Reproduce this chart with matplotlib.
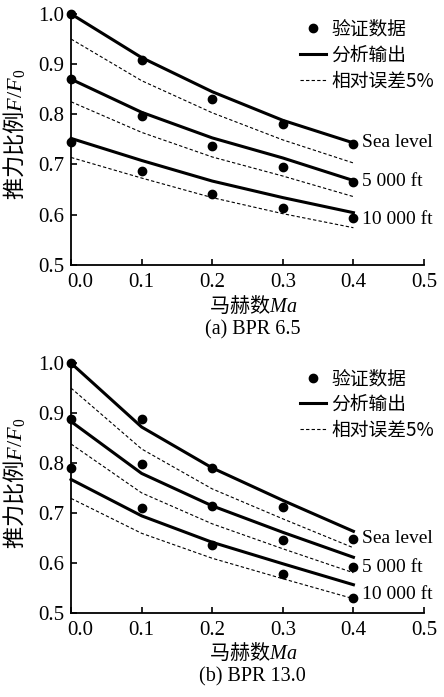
import numpy as np
import matplotlib
matplotlib.use('Agg')
import matplotlib.pyplot as plt
from matplotlib.transforms import ScaledTranslation

plt.rcParams['font.family'] = ['Liberation Serif', 'Noto Sans CJK SC']
plt.rcParams['mathtext.fontset'] = 'custom'
plt.rcParams['mathtext.it'] = 'Liberation Serif:italic'
plt.rcParams['mathtext.rm'] = 'Liberation Serif'

mach = [0.0, 0.1, 0.2, 0.3, 0.4]
altitudes = ['Sea level', '5 000 ft', '10 000 ft']

# (a) BPR 6.5
a_data = [[1.000, 0.909, 0.830, 0.781, 0.741],
          [0.870, 0.797, 0.736, 0.695, 0.665],
          [0.745, 0.687, 0.642, 0.614, 0.594]]
a_model = [[1.000, 0.913, 0.845, 0.788, 0.743],
           [0.870, 0.804, 0.753, 0.713, 0.668],
           [0.752, 0.708, 0.667, 0.634, 0.604]]
a_err = [[0.950, 0.867, 0.803, 0.749, 0.703],
         [0.825, 0.764, 0.715, 0.677, 0.636],
         [0.714, 0.673, 0.634, 0.602, 0.574]]
a_label_y = [0.744, 0.667, 0.590]

# (b) BPR 13.0
b_data = [[1.000, 0.888, 0.790, 0.711, 0.648],
          [0.888, 0.798, 0.713, 0.645, 0.591],
          [0.789, 0.709, 0.636, 0.577, 0.530]]
b_model = [[1.000, 0.872, 0.790, 0.725, 0.663],
           [0.883, 0.779, 0.714, 0.661, 0.611],
           [0.767, 0.694, 0.641, 0.598, 0.556]]
b_err = [[0.950, 0.828, 0.748, 0.688, 0.630],
         [0.838, 0.740, 0.678, 0.628, 0.580],
         [0.729, 0.659, 0.609, 0.568, 0.528]]
b_label_y = [0.648, 0.591, 0.536]

fig = plt.figure(figsize=(4.44, 6.97), dpi=100)
ax1 = fig.add_axes([0.160, 0.620, 0.795, 0.360])
ax2 = fig.add_axes([0.160, 0.121, 0.795, 0.358])

cjk = ['Noto Sans CJK SC']


def draw(ax, data, model, err, label_y, caption):
    for i in range(3):
        ax.plot(mach, model[i], color='black', lw=2.2, clip_on=False)
        ax.plot(mach, err[i], color='black', lw=0.8, ls=(0, (3, 2)), clip_on=False)
        ax.plot(mach, data[i], 'o', color='black', ms=6, clip_on=False, zorder=5)
        ax.text(0.412, label_y[i], altitudes[i], fontsize=14, va='center', ha='left')
    ax.set_xlim(0, 0.5)
    ax.set_ylim(0.5, 1.0)
    ax.set_xticks([0.0, 0.1, 0.2, 0.3, 0.4, 0.5])
    ax.set_yticks([0.5, 0.6, 0.7, 0.8, 0.9, 1.0])
    ax.xaxis.set_major_formatter(matplotlib.ticker.FormatStrFormatter('%.1f'))
    ax.yaxis.set_major_formatter(matplotlib.ticker.FormatStrFormatter('%.1f'))
    ax.tick_params(direction='in', length=4, width=1.2, labelsize=15)
    ax.tick_params(axis='x', pad=6)
    ax.tick_params(axis='y', pad=5)
    for s in ['top', 'right']:
        ax.spines[s].set_visible(False)
    for s in ['left', 'bottom']:
        ax.spines[s].set_linewidth(1.3)
    # first x label sits a little to the right, clear of the y labels
    lab0 = ax.get_xticklabels()[0]
    lab0.set_transform(lab0.get_transform() + ScaledTranslation(9 / 100, 0, fig.dpi_scale_trans))
    ax.text(0.515, -0.162, '马赫数$Ma$', transform=ax.transAxes, fontsize=14.5,
            family=cjk, ha='center', va='center')
    ax.text(-0.162, 0.52, '推力比例$F/F_0$', transform=ax.transAxes, fontsize=16,
            family=cjk, ha='center', va='center', rotation=90)
    ax.text(0.515, -0.258, caption, transform=ax.transAxes, fontsize=14.5,
            ha='center', va='center')
    h1, = ax.plot([], [], 'o', color='black', ms=6)
    h2, = ax.plot([], [], color='black', lw=2.2)
    h3, = ax.plot([], [], color='black', lw=0.8, ls=(0, (3, 2)))
    ax.legend([h1, h2, h3], ['验证数据', '分析输出', '相对误差5%'],
              loc='upper right', bbox_to_anchor=(1.05, 1.01), frameon=False,
              handlelength=1.35, handletextpad=0.3, labelspacing=0.25,
              borderaxespad=0.0, prop={'family': cjk, 'size': 13.5})


draw(ax1, a_data, a_model, a_err, a_label_y, '(a) BPR 6.5')
draw(ax2, b_data, b_model, b_err, b_label_y, '(b) BPR 13.0')

fig.savefig('out.png', dpi=100)
